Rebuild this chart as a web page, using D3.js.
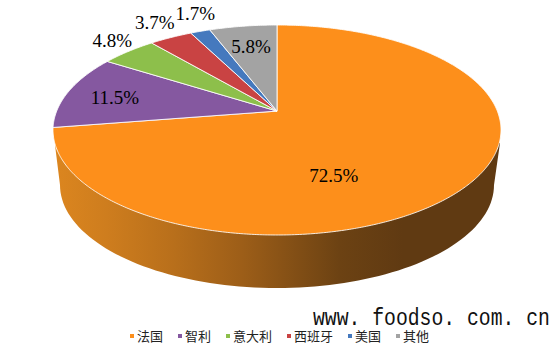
<!DOCTYPE html>
<html>
<head>
<meta charset="utf-8">
<script src="https://cdn.jsdelivr.net/npm/d3@7"></script>
<style>
  html, body { margin: 0; padding: 0; background: #fff; }
  svg { display: block; }
</style>
</head>
<body>
<svg id="chart" width="559" height="353"></svg>
<script>
const categories = ["法国", "智利", "意大利", "西班牙", "美国", "其他"];
const shares = [72.5, 11.5, 4.8, 3.7, 1.7, 5.8];
const colors = ["#FD8F1B", "#8558A0", "#8DBF4B", "#C94343", "#4579BE", "#A3A3A3"];
// label position relative to the rim point at the slice's middle angle
const labelOffsets = [[-133, -10], [46, 6], [-16, -11.5], [-16, -15], [-5, -18], [8, 20]];

const svg = d3.select("#chart");

// top face is an ellipse, apex sits above its centre because of the perspective
const x = d3.scaleLinear().domain([-1, 1]).range([53, 501]);
const y = d3.scaleLinear().domain([-1, 1]).range([235, 25]);
const tilt = 0.18;

function project(angle) {
  const u = Math.sin(angle), v = Math.cos(angle);
  const d = 1 + tilt * v;
  return [x(u * Math.sqrt(1 - tilt * tilt) / d), y((v + tilt) / d)];
}
const apex = [x(0), y(tilt)];

const pie = d3.pie().sort(null).value(d => d);
const arcs = pie(shares);

const defs = svg.append("defs");
const grad = defs.append("linearGradient")
  .attr("id", "wall")
  .attr("gradientUnits", "userSpaceOnUse")
  .attr("x1", 53).attr("x2", 501).attr("y1", 0).attr("y2", 0);
[[0, "#DC861F"], [0.12, "#CE7D1E"], [0.27, "#B86F1B"], [0.42, "#9D5E18"], [0.64, "#6C4213"], [0.78, "#603A12"], [1, "#603A12"]]
  .forEach(s => grad.append("stop").attr("offset", s[0]).attr("stop-color", s[1]));

// side wall, bottom ellipse front half joined up to the top ellipse
const wallX = d3.scaleLinear().domain([-1, 1]).range([60, 494]);
const wallY = d3.scaleLinear().domain([-1, 1]).range([288, 82]);
const wallPts = [[x(1) - 1, y(0) + 13]]
  .concat(d3.range(0, Math.PI + 0.01, Math.PI / 90).map(t => [wallX(Math.cos(t)), wallY(-Math.sin(t))]))
  .concat([[x(-1) + 2, y(0) + 15]]);
svg.append("path")
  .attr("d", d3.line()(wallPts) + "Z")
  .attr("fill", "url(#wall)");

// wedges
svg.append("g").selectAll("path")
  .data(arcs)
  .enter()
  .append("path")
  .attr("d", d => {
    const n = Math.max(4, Math.ceil((d.endAngle - d.startAngle) / 0.01));
    const pts = d3.range(n + 1).map(i => project(d.startAngle + (d.endAngle - d.startAngle) * i / n));
    return d3.line()([apex].concat(pts)) + "Z";
  })
  .attr("fill", (d, i) => colors[i])
  .attr("stroke", "#fff")
  .attr("stroke-opacity", 0.85)
  .attr("stroke-width", 1)
  .attr("stroke-linejoin", "round");

// value labels
svg.append("g").selectAll("text")
  .data(arcs)
  .enter()
  .append("text")
  .attr("x", (d, i) => project((d.startAngle + d.endAngle) / 2)[0] + labelOffsets[i][0])
  .attr("y", (d, i) => project((d.startAngle + d.endAngle) / 2)[1] + labelOffsets[i][1])
  .attr("dy", "0.35em")
  .attr("text-anchor", "middle")
  .attr("font-family", "'Liberation Serif', serif")
  .attr("font-size", 19)
  .attr("fill", "#000")
  .text(d => d.value.toFixed(1) + "%");

// legend
const fontSize = 13;
let lx = 130;
const legend = svg.append("g");
categories.forEach((c, i) => {
  legend.append("rect")
    .attr("x", lx).attr("y", 334).attr("width", 4).attr("height", 4)
    .attr("fill", colors[i]);
  legend.append("text")
    .attr("x", lx + 7).attr("y", 336).attr("dy", "0.38em")
    .attr("font-family", "'Noto Sans CJK SC', sans-serif")
    .attr("font-size", fontSize)
    .attr("fill", "#222")
    .text(c);
  lx += 7 + c.length * fontSize + 15;
});

// watermark, narrowed so it is as tall as the original
svg.append("text")
  .attr("transform", "translate(313,325) scale(0.859,1)")
  .attr("font-family", "'Liberation Mono', monospace")
  .attr("font-size", 23)
  .attr("fill", "#111")
  .attr("xml:space", "preserve")
  .text("www. foodso. com. cn");
</script>
</body>
</html>
